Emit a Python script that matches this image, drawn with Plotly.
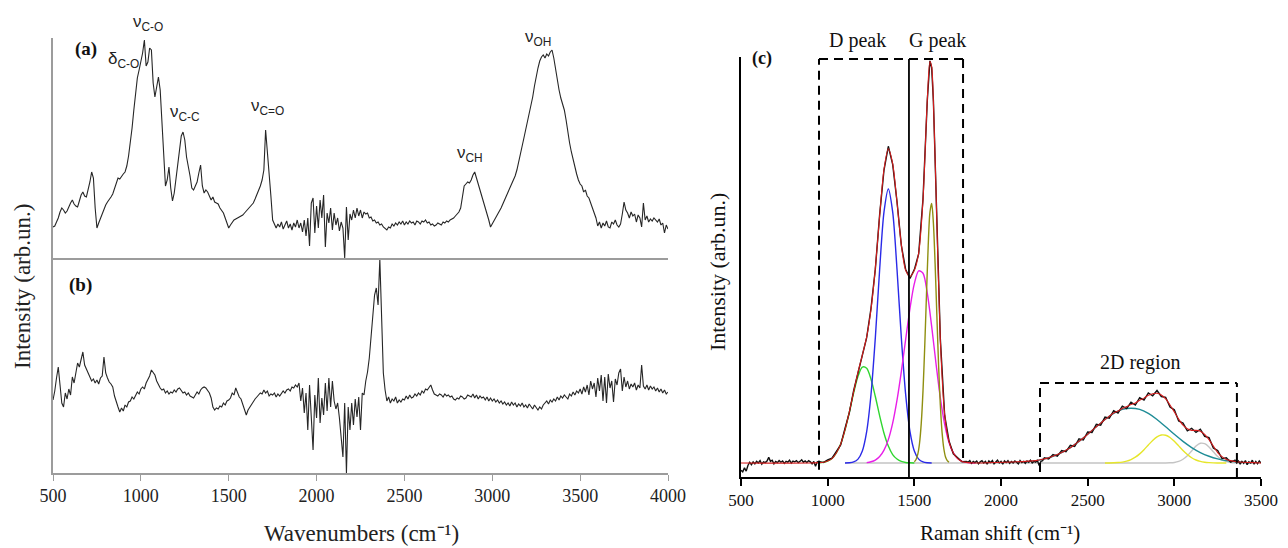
import plotly.graph_objects as go

W, H = 1288, 548

# ---------------- Panels (a) and (b): FTIR-like spectra ----------------
WN = list(range(500, 4001, 10))

INT_A = [
    31, 32, 36, 40, 46, 50, 48, 45, 47, 52,
    55, 58, 54, 52, 51, 57, 63, 66, 62, 61,
    68, 76, 86, 80, 50, 30, 35, 40, 44, 49,
    53, 56, 58, 61, 64, 70, 74, 80, 79, 82,
    84, 86, 92, 102, 114, 130, 148, 165, 180, 188,
    195, 205, 218, 192, 196, 210, 208, 175, 161, 172,
    181, 168, 135, 100, 72, 78, 91, 70, 57, 65,
    80, 98, 112, 122, 126, 118, 101, 92, 82, 70,
    68, 72, 76, 85, 93, 72, 65, 68, 66, 62,
    58, 61, 56, 55, 54, 50, 48, 45, 40, 34,
    30, 33, 36, 38, 39, 40, 41, 42, 43, 45,
    47, 49, 51, 53, 55, 59, 63, 67, 72, 78,
    88, 128, 108, 90, 62, 38, 33, 30, 34, 31,
    36, 29, 33, 37, 30, 34, 28, 35, 31, 38,
    30, 35, 26, 38, 22, 40, 12, 55, 60, 25,
    52, 30, 58, 40, 63, 11, 45, 35, 50, 28,
    45, 33, 40, 27, 36, 30, 0, 51, 18, 44,
    38, 48, 40, 50, 42, 48, 40, 46, 44, 45,
    40, 41, 37, 38, 35, 36, 33, 34, 31, 29,
    28, 31, 30, 34, 32, 35, 33, 36, 34, 37,
    33, 36, 34, 37, 35, 36, 33, 37, 36, 34,
    37, 36, 38, 35, 36, 33, 34, 32, 33, 35,
    34, 33, 36, 35, 37, 36, 38, 39, 40, 42,
    44, 46, 50, 60, 72, 74, 76, 75, 78, 83,
    86, 80, 74, 68, 64, 58, 52, 46, 38, 31,
    34, 37, 40, 43, 46, 50, 54, 58, 62, 66,
    70, 74, 77, 82, 88, 95, 103, 112, 120, 128,
    138, 145, 152, 161, 172, 183, 190, 197, 201, 203,
    200, 204, 202, 206, 208, 200, 188, 178, 168, 160,
    155, 148, 138, 125, 115, 106, 98, 90, 84, 78,
    74, 72, 66, 68, 62, 60, 55, 50, 44, 40,
    32, 36, 30, 35, 32, 37, 31, 30, 36, 34,
    38, 33, 31, 34, 44, 56, 48, 45, 40, 46,
    42, 44, 36, 43, 40, 31, 55, 38, 42, 36,
    39, 37, 40, 38, 36, 39, 33, 35, 25, 33,
    29,
]

INT_B = [
    73, 82, 95, 106, 88, 70, 66, 80, 74, 84,
    78, 96, 90, 102, 110, 106, 115, 121, 108, 104,
    100, 96, 92, 94, 90, 93, 89, 95, 97, 116,
    100, 95, 91, 89, 86, 77, 70, 66, 61, 65,
    62, 68, 66, 71, 72, 76, 74, 78, 81, 79,
    84, 86, 84, 90, 93, 97, 103, 100, 98, 92,
    88, 85, 83, 84, 80, 82, 79, 81, 80, 83,
    81, 84, 85, 82, 80, 81, 78, 80, 77, 76,
    75, 78, 81, 79, 83, 85, 86, 85, 83, 80,
    75, 66, 63, 65, 64, 67, 66, 70, 68, 72,
    73, 75, 80, 78, 85, 80, 76, 74, 68, 64,
    58, 63, 66, 68, 72, 74, 76, 78, 80, 79,
    83, 80, 82, 77, 79, 78, 80, 76, 79, 77,
    80, 82, 80, 83, 84, 82, 86, 85, 88, 86,
    90, 72, 85, 60, 80, 43, 88, 50, 23, 78,
    55, 95, 50, 75, 58, 90, 62, 95, 66, 92,
    72, 64, 70, 55, 35, 16, 70, 0, 66, 43,
    70, 48, 74, 56, 76, 43, 80, 78, 92, 101,
    115, 138, 160, 178, 185, 168, 214, 160, 100, 83,
    72, 76, 70, 74, 72, 76, 70, 73, 71, 74,
    73, 77, 74, 78, 75, 76, 79, 77, 80, 78,
    82, 80, 84, 83, 86, 88, 83, 79, 78, 77,
    79, 78, 76, 79, 77, 78, 76, 77, 74, 73,
    75, 74, 77, 76, 74, 75, 78, 77, 76, 79,
    75, 78, 74, 77, 75, 76, 73, 76, 72, 75,
    72, 74, 71, 73, 70, 72, 69, 71, 68, 70,
    67, 71, 68, 70, 66, 69, 67, 70, 66, 68,
    65, 69, 66, 64, 68, 65, 63, 66, 64, 68,
    70, 72, 69, 73, 71, 74, 72, 76, 73, 77,
    75, 78, 76, 74, 79, 77, 81, 78, 82, 80,
    84, 79, 86, 81, 88, 78, 92, 84, 90, 76,
    95, 82, 98, 72, 96, 70, 99, 85, 92, 71,
    94, 88, 100, 104, 82, 96, 86, 92, 84, 89,
    86, 90, 83, 88, 85, 108, 87, 84, 88, 83,
    87, 84, 86, 82, 85, 81, 84, 80, 83, 79,
    81,
]
assert len(INT_A) == len(WN), len(INT_A)
assert len(INT_B) == len(WN), len(INT_B)

LEFT_TICKS = [500, 1000, 1500, 2000, 2500, 3000, 3500, 4000]

# ---------------- Panel (c): Raman spectrum and fit ----------------
RS_X2 = [950, 975, 1000, 1025, 1050, 1075, 1100, 1125, 1150, 1175, 1200, 1225,
         1250, 1275, 1300, 1325, 1350, 1375, 1400, 1425, 1450, 1475, 1500, 1525,
         1550, 1575, 1590, 1600, 1610, 1625, 1650, 1675, 1700, 1725, 1750, 1775, 1800]
RS_X4 = list(range(2250, 3351, 25))

RAMAN_X = (list(range(500, 950, 10)) + RS_X2 + list(range(1810, 2250, 10))
           + RS_X4 + list(range(3360, 3501, 10)))
RAMAN_Y = [
    # 500-940
    -0.018, -0.022, -0.012, -0.020, -0.006, 0.002, -0.004, 0.003, -0.002, 0.004,
    0.000, 0.006, -0.003, 0.003, 0.001, 0.005, 0.014, 0.004, 0.007, -0.002,
    0.004, 0.001, 0.006, 0.002, 0.005, -0.001, 0.004, 0.002, 0.007, 0.000,
    0.005, 0.003, 0.006, 0.001, 0.004, 0.008, 0.002, 0.005, 0.001, 0.006,
    0.003, -0.002, 0.004, -0.008, 0.003,
    # 950-1800
    0.004, 0.001, 0.008, 0.012, 0.028, 0.045, 0.086, 0.125, 0.180, 0.223, 0.270, 0.311,
    0.384, 0.481, 0.617, 0.727, 0.786, 0.741, 0.649, 0.540, 0.480, 0.458, 0.480, 0.519,
    0.655, 0.901, 0.998, 0.981, 0.899, 0.675, 0.308, 0.118, 0.055, 0.023, 0.013, 0.003, 0.004,
    # 1810-2240
    0.002, 0.006, -0.001, 0.004, 0.001, 0.005, -0.002, 0.003, 0.006, 0.000,
    0.004, -0.003, 0.005, 0.001, 0.006, -0.002, 0.003, 0.007, 0.000, 0.004,
    -0.003, 0.005, 0.001, 0.006, -0.001, 0.004, 0.000, 0.005, 0.002, -0.002,
    0.006, 0.001, 0.004, -0.001, 0.005, 0.002, 0.007, 0.000, 0.004, 0.002,
    0.006, -0.006, 0.004, 0.006,
    # 2250-3350
    0.013, 0.010, 0.021, 0.017, 0.031, 0.028, 0.044, 0.041, 0.060, 0.057,
    0.077, 0.076, 0.096, 0.094, 0.114, 0.111, 0.130, 0.124, 0.141, 0.135,
    0.151, 0.144, 0.162, 0.156, 0.174, 0.167, 0.180, 0.165, 0.163, 0.139,
    0.132, 0.104, 0.099, 0.080, 0.086, 0.076, 0.084, 0.066, 0.063, 0.037,
    0.031, 0.011, 0.013, 0.002, 0.007,
    # 3360-3500
    0.000, 0.005, -0.003, 0.004, -0.001, 0.006, -0.004, 0.003, 0.000, 0.007,
    -0.003, 0.004, -0.002, 0.005, 0.000,
]
assert len(RAMAN_X) == len(RAMAN_Y), (len(RAMAN_X), len(RAMAN_Y))

FIT_X = [500, 900] + RS_X2 + [1850, 2200] + list(range(2250, 3376, 25)) + [3450, 3500]
FIT_Y = ([0.0, 0.0] +
         [0.001, 0.002, 0.005, 0.011, 0.025, 0.047, 0.082, 0.127, 0.177, 0.225, 0.268, 0.313,
          0.381, 0.483, 0.614, 0.729, 0.780, 0.743, 0.647, 0.542, 0.478, 0.463, 0.478, 0.521,
          0.653, 0.903, 0.996, 0.983, 0.897, 0.677, 0.306, 0.120, 0.053, 0.025, 0.011, 0.004, 0.0015] +
         [0.0, 0.006] +
         [0.0103, 0.0132, 0.0168, 0.021, 0.026, 0.032, 0.038, 0.046, 0.054, 0.062,
          0.071, 0.081, 0.090, 0.099, 0.108, 0.116, 0.124, 0.129, 0.135, 0.140,
          0.145, 0.149, 0.156, 0.161, 0.168, 0.172, 0.173, 0.169, 0.159, 0.144,
          0.127, 0.109, 0.094, 0.085, 0.081, 0.081, 0.079, 0.071, 0.058, 0.042,
          0.026, 0.016, 0.009, 0.006, 0.0036, 0.0024] +
         [0.001, 0.0])
assert len(FIT_X) == len(FIT_Y), (len(FIT_X), len(FIT_Y))

# fitted components
GREEN_X = list(range(950, 1501, 25))
GREEN_Y = [0.0006, 0.0018, 0.005, 0.011, 0.025, 0.047, 0.082, 0.126, 0.174, 0.215, 0.238, 0.235,
           0.208, 0.165, 0.117, 0.074, 0.042, 0.021, 0.010, 0.004, 0.0014, 0.0005, 0.0]
BLUE_X = list(range(1100, 1601, 25))
BLUE_Y = [0.0001, 0.0006, 0.0026, 0.0097, 0.030, 0.078, 0.170, 0.311, 0.481, 0.623, 0.680,
          0.623, 0.481, 0.311, 0.170, 0.078, 0.030, 0.0097, 0.0026, 0.0006, 0.0001]
MAGENTA_X = list(range(1225, 1851, 25))
MAGENTA_Y = [0.001, 0.0032, 0.0074, 0.016, 0.032, 0.058, 0.099, 0.156, 0.227, 0.307, 0.384, 0.445,
             0.477, 0.471, 0.421, 0.339, 0.247, 0.162, 0.096, 0.051, 0.025, 0.011, 0.0042,
             0.0015, 0.0005, 0.0]
OLIVE_X = list(range(1500, 1701, 10))
OLIVE_Y = [0.003, 0.0087, 0.022, 0.049, 0.099, 0.179, 0.289, 0.417, 0.539, 0.622, 0.644,
           0.595, 0.493, 0.366, 0.242, 0.144, 0.076, 0.036, 0.015, 0.006, 0.002]
TEAL_X = list(range(2150, 3451, 50))
TEAL_Y = [0.0033, 0.006, 0.0103, 0.0168, 0.026, 0.0384, 0.0537, 0.0713, 0.090, 0.108, 0.123,
          0.133, 0.136, 0.133, 0.123, 0.108, 0.090, 0.0713, 0.0537, 0.0384, 0.026, 0.0168,
          0.0103, 0.006, 0.0033, 0.0017, 0.0008]
YELLOW_X = list(range(2600, 3301, 25))
YELLOW_Y = [0.0001, 0.0002, 0.0005, 0.0011, 0.0023, 0.0046, 0.0085, 0.0144, 0.0227, 0.0332,
            0.0448, 0.056, 0.065, 0.0696, 0.069, 0.0634, 0.054, 0.0425, 0.031, 0.021, 0.013,
            0.0075, 0.004, 0.002, 0.0009, 0.0004, 0.0002, 0.0001, 0.0]
GRAY_X = [1100, 2950] + list(range(2975, 3376, 25))
GRAY_Y = [0.0, 0.0001, 0.0005, 0.0014, 0.004, 0.0093, 0.018, 0.030, 0.042, 0.049, 0.048, 0.040,
          0.028, 0.016, 0.008, 0.0033, 0.0011, 0.0003, 0.0]
for a, b in [(GREEN_X, GREEN_Y), (BLUE_X, BLUE_Y), (MAGENTA_X, MAGENTA_Y), (OLIVE_X, OLIVE_Y),
             (TEAL_X, TEAL_Y), (YELLOW_X, YELLOW_Y), (GRAY_X, GRAY_Y)]:
    assert len(a) == len(b), (len(a), len(b))

RIGHT_TICKS = [500, 1000, 1500, 2000, 2500, 3000, 3500]

# region boxes (Raman shift)
DG_BOX = [950, 1781]
DG_SPLIT = 1469
TWO_D_BOX = [2225, 3361]

# ---------------- Figure ----------------
fig = go.Figure()

LEFT_LINE = dict(color="#262626", width=1.1)
fig.add_trace(go.Scatter(x=WN, y=INT_A, mode="lines", line=LEFT_LINE, xaxis="x2", yaxis="y2",
                         showlegend=False, hoverinfo="skip"))
fig.add_trace(go.Scatter(x=WN, y=INT_B, mode="lines", line=LEFT_LINE, xaxis="x", yaxis="y",
                         showlegend=False, hoverinfo="skip"))

def comp(xs, ys, color, width=1.4):
    fig.add_trace(go.Scatter(x=xs, y=ys, mode="lines",
                             line=dict(color=color, width=width, shape="spline", smoothing=0.8),
                             xaxis="x3", yaxis="y3", showlegend=False, hoverinfo="skip"))

comp(GRAY_X, GRAY_Y, "#c4c4c4")
comp(TEAL_X, TEAL_Y, "#1e8c96")
comp(YELLOW_X, YELLOW_Y, "#e6e62a")
comp(GREEN_X, GREEN_Y, "#2fd62f")
comp(BLUE_X, BLUE_Y, "#2a2ae8")
comp(MAGENTA_X, MAGENTA_Y, "#e81ee8")
comp(OLIVE_X, OLIVE_Y, "#8f8f10")

fig.add_trace(go.Scatter(x=RAMAN_X, y=RAMAN_Y, mode="lines", line=dict(color="#111111", width=1.4),
                         xaxis="x3", yaxis="y3", showlegend=False, hoverinfo="skip"))
fig.add_trace(go.Scatter(x=FIT_X, y=FIT_Y, mode="lines",
                         line=dict(color="#d41c1c", width=1.1, shape="spline", smoothing=0.8),
                         xaxis="x3", yaxis="y3", showlegend=False, hoverinfo="skip"))

GRAY_AX = "#9c9c9c"
serif = "Liberation Serif"

def px_x(p):
    return p / W

def px_y(p):
    return 1 - p / H

common = dict(showgrid=False, zeroline=False, automargin=False)
fig.update_layout(
    width=W, height=H, autosize=False,
    margin=dict(l=0, r=0, t=0, b=0, pad=0, autoexpand=False),
    paper_bgcolor="white", plot_bgcolor="white",
    xaxis=dict(domain=[px_x(53), px_x(668)], range=[500, 4000], anchor="y",
               showline=True, linecolor=GRAY_AX, linewidth=1.5, ticks="outside", ticklen=6,
               tickcolor=GRAY_AX, tickwidth=1.2, tickvals=LEFT_TICKS,
               tickfont=dict(family=serif, size=18, color="#222"), **common),
    yaxis=dict(domain=[px_y(473), px_y(258)], range=[0, 215], anchor="x",
               showline=True, linecolor=GRAY_AX, linewidth=1.5, showticklabels=False, ticks="",
               **common),
    xaxis2=dict(domain=[px_x(53), px_x(668)], range=[500, 4000], anchor="y2",
                showline=True, linecolor=GRAY_AX, linewidth=1.5, showticklabels=False, ticks="",
                **common),
    yaxis2=dict(domain=[px_y(258), px_y(38)], range=[0, 220], anchor="x2",
                showline=True, linecolor=GRAY_AX, linewidth=1.5, showticklabels=False, ticks="",
                **common),
    xaxis3=dict(domain=[px_x(741), px_x(1261)], range=[500, 3500], anchor="y3",
                showline=True, linecolor="black", linewidth=2, ticks="outside", ticklen=7,
                tickcolor="black", tickwidth=2, tickvals=RIGHT_TICKS,
                tickfont=dict(family=serif, size=17, color="#111"), **common),
    yaxis3=dict(domain=[px_y(477), px_y(57)], range=[-0.0347, 1.0075], anchor="x3",
                showline=True, linecolor="black", linewidth=2, showticklabels=False, ticks="",
                **common),
)

DASH = "9px,6px"
shapes = [
    dict(type="line", xref="x3", yref="y3", x0=DG_BOX[0], x1=DG_BOX[0], y0=-0.017, y1=1.0025,
         line=dict(color="black", width=2, dash=DASH)),
    dict(type="line", xref="x3", yref="y3", x0=DG_BOX[0], x1=DG_BOX[1], y0=1.0025, y1=1.0025,
         line=dict(color="black", width=2, dash=DASH)),
    dict(type="line", xref="x3", yref="y3", x0=DG_BOX[1], x1=DG_BOX[1], y0=1.0025, y1=0.0,
         line=dict(color="black", width=2, dash=DASH)),
    dict(type="line", xref="x3", yref="y3", x0=DG_SPLIT, x1=DG_SPLIT, y0=-0.0347, y1=1.0025,
         line=dict(color="black", width=1.8)),
    dict(type="line", xref="x3", yref="y3", x0=TWO_D_BOX[0], x1=TWO_D_BOX[0], y0=-0.022, y1=0.1985,
         line=dict(color="black", width=2, dash=DASH)),
    dict(type="line", xref="x3", yref="y3", x0=TWO_D_BOX[0], x1=TWO_D_BOX[1], y0=0.1985, y1=0.1985,
         line=dict(color="black", width=2, dash=DASH)),
    dict(type="line", xref="x3", yref="y3", x0=TWO_D_BOX[1], x1=TWO_D_BOX[1], y0=-0.0347, y1=0.1985,
         line=dict(color="black", width=2, dash=DASH)),
]
fig.update_layout(shapes=shapes)

def ann(text, x, y, size, family=serif, angle=0, color="#111"):
    fig.add_annotation(text=text, x=px_x(x), y=px_y(y), xref="paper", yref="paper",
                       showarrow=False, textangle=angle, xanchor="center", yanchor="middle",
                       font=dict(family=family, size=size, color=color))

sans = "Liberation Sans"
ann("<b>(a)</b>", 86, 49, 19)
ann("<b>(b)</b>", 80, 285, 19)
ann("<b>(c)</b>", 762, 58, 18)
ann("ν<sub>C-O</sub>", 148, 23, 17, sans, color="#222")
ann("δ<sub>C-O</sub>", 123, 60, 17, sans, color="#222")
ann("ν<sub>C-C</sub>", 185, 113, 17, sans, color="#222")
ann("ν<sub>C=O</sub>", 267, 107, 17, sans, color="#222")
ann("ν<sub>CH</sub>", 470, 154, 17, sans, color="#222")
ann("ν<sub>OH</sub>", 538, 38, 17, sans, color="#222")
ann("D peak", 857, 40, 20)
ann("G peak", 937, 40, 20)
ann("2D region", 1140, 362, 20)
ann("Wavenumbers (cm⁻¹)", 361, 533, 23, color="#222")
ann("Raman shift (cm⁻¹)", 1000, 533, 21)
ann("Intensity (arb.un.)", 22, 287, 23, angle=-90, color="#222")
ann("Intensity (arb.un.)", 717, 272, 22, angle=-90)

fig.write_html(
    "out.html",
    config={"displayModeBar": False, "responsive": False},
    post_script="document.body.style.margin='0px';document.body.style.padding='0px';"
                "document.documentElement.style.overflow='hidden';document.body.style.overflow='hidden';",
)
